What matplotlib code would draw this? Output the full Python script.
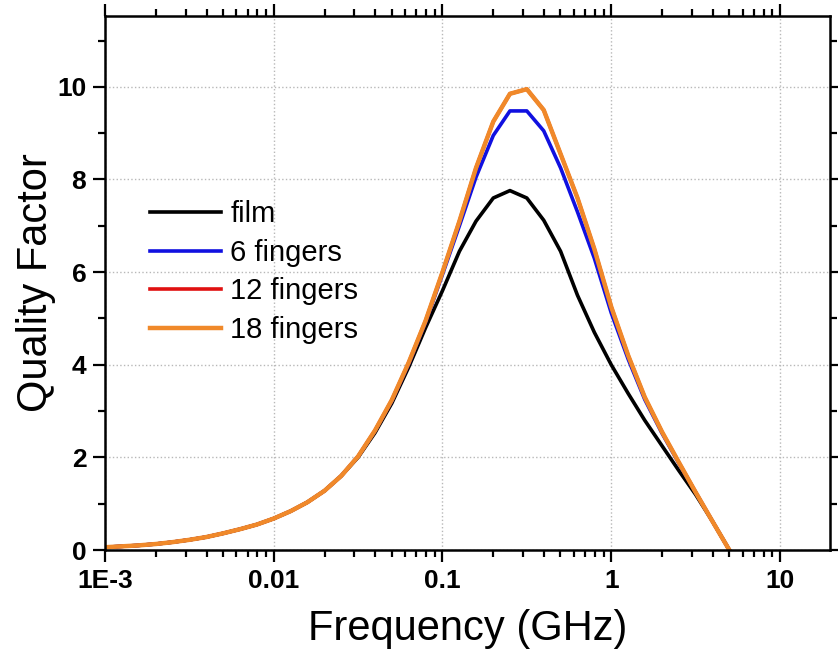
import numpy as np
import matplotlib
matplotlib.use("Agg")
import matplotlib.pyplot as plt
from matplotlib.ticker import FixedLocator, FixedFormatter, LogLocator, NullFormatter, MultipleLocator

plt.rcParams['font.family'] = ['Liberation Sans', 'DejaVu Sans']

# frequency points (GHz), 10 per decade
freq = [0.001, 0.00126, 0.00158, 0.002, 0.00251, 0.00316, 0.00398, 0.00501, 0.00631, 0.00794,
        0.01, 0.0126, 0.0158, 0.02, 0.0251, 0.0316, 0.0398, 0.0501, 0.0631, 0.0794,
        0.1, 0.126, 0.158, 0.2, 0.251, 0.316, 0.398, 0.501, 0.631, 0.794,
        1.0, 1.26, 1.58, 2.0, 2.51, 3.16, 3.98, 5.01]

q_film = [0.06, 0.08, 0.10, 0.13, 0.17, 0.22, 0.28, 0.36, 0.45, 0.55,
          0.68, 0.84, 1.03, 1.28, 1.60, 2.00, 2.53, 3.17, 3.95, 4.80,
          5.60, 6.45, 7.10, 7.60, 7.76, 7.60, 7.12, 6.45, 5.50, 4.70,
          4.00, 3.38, 2.80, 2.25, 1.72, 1.20, 0.62, 0.0]

q_6 = [0.06, 0.08, 0.10, 0.13, 0.17, 0.22, 0.28, 0.36, 0.45, 0.55,
       0.68, 0.84, 1.03, 1.28, 1.60, 2.02, 2.57, 3.22, 4.02, 4.92,
       5.95, 7.00, 8.05, 8.95, 9.48, 9.48, 9.05, 8.25, 7.30, 6.30,
       5.12, 4.12, 3.25, 2.52, 1.88, 1.25, 0.62, 0.0]

q_12 = [0.06, 0.08, 0.10, 0.13, 0.17, 0.22, 0.28, 0.36, 0.45, 0.55,
        0.68, 0.84, 1.03, 1.28, 1.60, 2.02, 2.58, 3.24, 4.05, 4.95,
        6.00, 7.10, 8.25, 9.25, 9.85, 9.95, 9.50, 8.55, 7.60, 6.50,
        5.25, 4.20, 3.30, 2.55, 1.90, 1.25, 0.62, 0.0]

q_18 = [0.06, 0.08, 0.10, 0.13, 0.17, 0.22, 0.28, 0.36, 0.45, 0.55,
        0.68, 0.84, 1.03, 1.28, 1.60, 2.02, 2.58, 3.24, 4.05, 4.95,
        6.00, 7.10, 8.25, 9.25, 9.85, 9.95, 9.50, 8.55, 7.60, 6.50,
        5.25, 4.20, 3.30, 2.55, 1.90, 1.25, 0.62, 0.0]

x_tick_vals = [0.001, 0.01, 0.1, 1, 10]
x_tick_labels = ["1E-3", "0.01", "0.1", "1", "10"]
y_tick_vals = [0, 2, 4, 6, 8, 10]

fig = plt.figure(figsize=(8.38, 6.52), dpi=100)
ax = fig.add_axes([0.1253, 0.1564, 0.8652, 0.8191])

ax.plot(freq, q_film, color="black", lw=2.6, label="film")
ax.plot(freq, q_6, color="#1010e0", lw=2.6, label="6 fingers")
ax.plot(freq, q_12, color="#e01010", lw=2.6, label="12 fingers")
ax.plot(freq, q_18, color="#f0892a", lw=3.2, label="18 fingers")

ax.set_xscale("log")
ax.set_xlim(1e-3, 19.8)
ax.set_ylim(0, 11.53)

ax.xaxis.set_major_locator(FixedLocator(x_tick_vals))
ax.xaxis.set_major_formatter(FixedFormatter(x_tick_labels))
ax.xaxis.set_minor_locator(LogLocator(base=10, subs=np.arange(2, 10), numticks=20))
ax.xaxis.set_minor_formatter(NullFormatter())
ax.yaxis.set_major_locator(FixedLocator(y_tick_vals))
ax.yaxis.set_minor_locator(MultipleLocator(1))

ax.grid(True, which="major", color="#b8b8b8", linestyle=":", linewidth=1.0)

ax.tick_params(which="both", direction="out", top=True, right=True, width=1.6,
               labelsize=19, pad=5)
ax.tick_params(which="major", length=8.5)
ax.tick_params(which="minor", length=5)
for lab in ax.get_xticklabels() + ax.get_yticklabels():
    lab.set_fontweight("bold")
for sp in ax.spines.values():
    sp.set_linewidth(1.8)

ax.set_xlabel("Frequency (GHz)", fontsize=30, labelpad=12)
ax.set_ylabel("Quality Factor", fontsize=30, labelpad=1)

ax.legend(loc="upper left", bbox_to_anchor=(0.062, 0.655), frameon=False, fontsize=21,
          handlelength=2.45, handletextpad=0.3, labelspacing=0.36, borderpad=0, borderaxespad=0)

fig.savefig("out.png", dpi=100)
